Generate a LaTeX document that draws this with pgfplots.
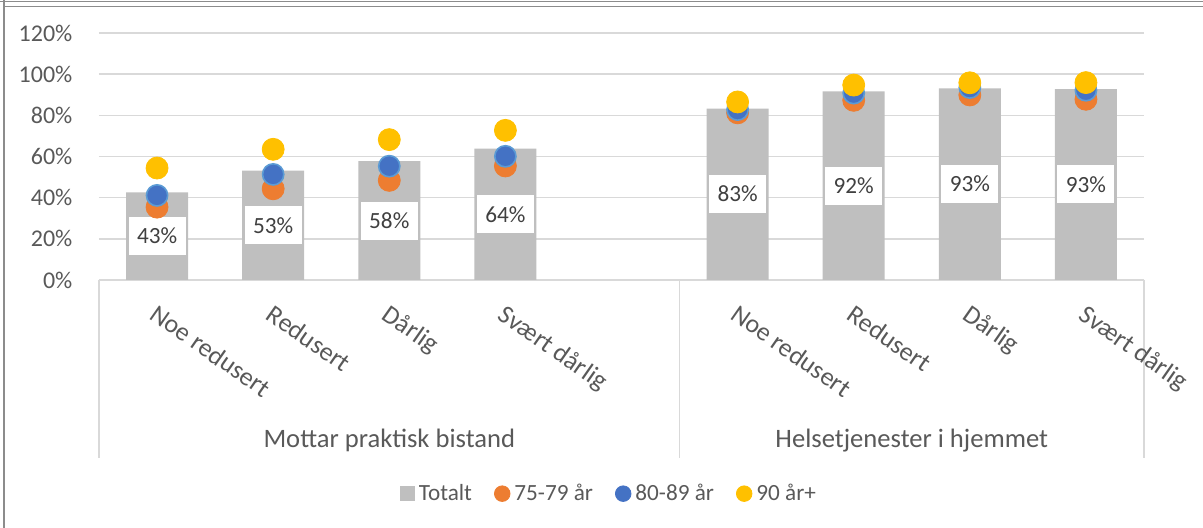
\documentclass[border=0pt]{standalone}
\usepackage{fontspec}
\setmainfont{Carlito}
\usepackage{pgfplots}
\pgfplotsset{compat=1.18}
\usepackage{pgfplotstable}

\definecolor{barc}{HTML}{BFBFBF}
\definecolor{c75}{HTML}{ED7D31}
\definecolor{c80}{HTML}{4472C4}
\definecolor{c80rim}{HTML}{5B9BD5}
\definecolor{c90}{HTML}{FFC000}
\definecolor{gridc}{HTML}{D9D9D9}
\definecolor{txt}{HTML}{595959}
\definecolor{labc}{HTML}{404040}
\definecolor{framec}{HTML}{8C8C8C}

% x: 0-3 Mottar praktisk bistand, 5-8 Helsetjenester i hjemmet (4 is an empty slot)
\pgfplotstableread{
x tot half lab o75 b80 y90
0 42.6 21.3 43 35.4 41.1 54.4
1 53.1 26.6 53 44.3 51.3 63.5
2 57.8 28.9 58 48.4 55.3 68.2
3 63.8 31.9 64 55.4 60.1 72.7
5 83.3 41.7 83 81.2 82.8 86.5
6 91.6 45.8 92 87.3 90.8 94.7
7 93.1 46.6 93 89.9 93.5 95.8
8 92.7 46.4 93 87.8 92.2 95.9
}\datatab

\newcommand{\fs}[1]{\fontsize{#1}{#1}\selectfont}
\newcommand{\catlab}[2]{%
  \node[rotate=-35, anchor=north west, inner sep=0pt, text=txt, font=\fs{13}]
    at ([xshift=1pt, yshift=-11.5pt]axis cs:#1,0) {#2};}

\begin{document}
\begin{tikzpicture}
\useasboundingbox (-49.5pt,-124pt) rectangle (552pt,140pt);
\begin{axis}[
  scale only axis, width=522.5pt, height=123.5pt,
  xmin=-0.5, xmax=8.5, ymin=0, ymax=120,
  axis x line=bottom, axis y line=left,
  axis line style={draw=none}, tick style={draw=none},
  ytick={0,20,...,120},
  yticklabel={\pgfmathprintnumber{\tick}\%},
  /pgf/number format/assume math mode=true,
  yticklabel style={font=\fs{12}, text=txt, anchor=east, inner sep=0pt, xshift=-11pt},
  xtick=\empty,
  ymajorgrids, major grid style={gridc, line width=0.75pt},
  clip=false,
  legend columns=-1,
  legend style={at={(axis cs:3.9,-103.8)}, anchor=center, draw=none, fill=none,
    font=\fs{11.6}, text=txt, inner sep=0pt,
    /tikz/every even column/.append style={column sep=9pt}},
]
\addplot[ybar, bar width=31pt, fill=barc, draw=none,
  legend image code/.code={\fill[barc] (0pt,-3.75pt) rectangle (7.5pt,3.75pt);}]
  table[x=x, y=tot] {\datatab};
\addlegendentry{Totalt}
\addplot[draw=none, mark=none, forget plot, nodes near coords={\pgfplotspointmeta\%},
  point meta=explicit symbolic,
  nodes near coords style={anchor=center, fill=white, text=labc, font=\fs{11.6},
    minimum width=28.5pt, minimum height=19pt, inner sep=0pt}]
  table[x=x, y=half, meta=lab] {\datatab};
\addplot[only marks, mark=*, mark size=5.5pt, mark options={fill=c75, draw=c75},
  legend image code/.code={\fill[c75] (3.9pt,0pt) circle (3.9pt);}]
  table[x=x, y=o75] {\datatab};
\addlegendentry{75-79 år}
\addplot[only marks, mark=*, mark size=5.3pt, mark options={fill=c80, draw=c80rim, line width=0.8pt},
  legend image code/.code={\fill[c80] (3.9pt,0pt) circle (3.9pt);}]
  table[x=x, y=b80] {\datatab};
\addlegendentry{80-89 år}
\addplot[only marks, mark=*, mark size=5.5pt, mark options={fill=c90, draw=c90},
  legend image code/.code={\fill[c90] (3.9pt,0pt) circle (3.9pt);}]
  table[x=x, y=y90] {\datatab};
\addlegendentry{90 år+}
% category separators
\draw[gridc, line width=0.75pt] (axis cs:-0.5,0) -- (axis cs:-0.5,-86.7);
\draw[gridc, line width=0.75pt] (axis cs:4.5,0) -- (axis cs:4.5,-86.7);
\draw[gridc, line width=0.75pt] (axis cs:8.5,0) -- (axis cs:8.5,-86.7);
% category labels
\catlab{0}{Noe redusert}
\catlab{1}{Redusert}
\catlab{2}{Dårlig}
\catlab{3}{Svært dårlig}
\catlab{5}{Noe redusert}
\catlab{6}{Redusert}
\catlab{7}{Dårlig}
\catlab{8}{Svært dårlig}
\node[text=txt, font=\fs{13.3}] at (axis cs:2,-78) {Mottar praktisk bistand};
\node[text=txt, font=\fs{13.3}] at (axis cs:6.5,-78) {Helsetjenester i hjemmet};
\end{axis}
% outer chart frame (cropped)
\draw[framec, line width=0.6pt] (-49.5pt,139.3pt) -- (552pt,139.3pt);
\draw[framec, line width=0.6pt] (-47.25pt,136.7pt) -- (552pt,136.7pt);
\draw[framec, line width=0.9pt] (-47.3pt,140pt) -- (-47.3pt,-124pt);
\end{tikzpicture}
\end{document}
